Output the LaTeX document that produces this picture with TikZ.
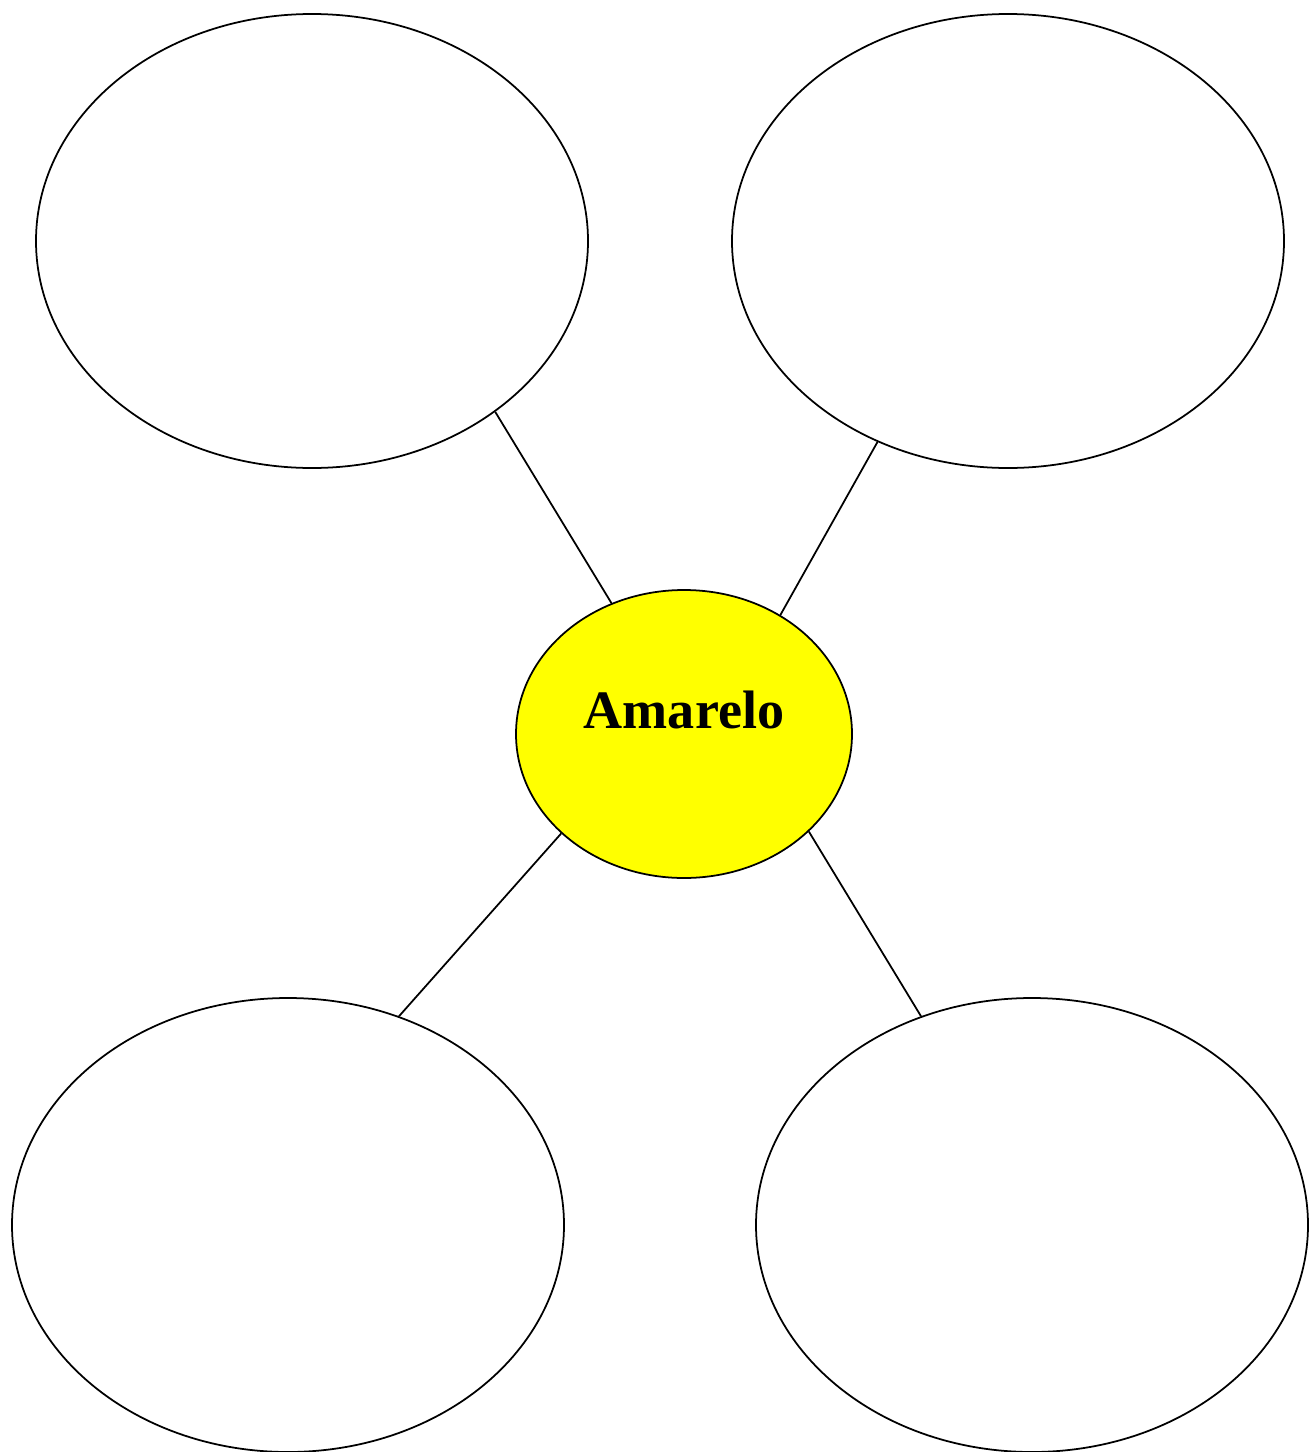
\documentclass[tikz,border=0pt]{standalone}
\usepackage{fontspec}
\setmainfont{Liberation Serif}
\usetikzlibrary{shapes.geometric}
\definecolor{amarelo}{RGB}{255,255,0}
\begin{document}
\begin{tikzpicture}[
  bolha/.style={draw, ellipse, line width=0.5pt, inner sep=0pt,
    minimum width=5.52cm, minimum height=4.54cm},
  ligacao/.style={draw, line width=0.5pt}]
  \useasboundingbox (0,0) rectangle (13.1,-14.52);

  % Bolha central
  \node[draw, ellipse, fill=amarelo, line width=0.5pt, inner sep=0pt,
    minimum width=3.36cm, minimum height=2.88cm] (centro) at (6.84,-7.34) {};
  \node[font=\fontsize{15.4}{18}\selectfont\bfseries] (titulo) at (6.84,-7.10) {Amarelo};

  % Bolhas vazias
  \node[bolha] (supesq) at (3.12,-2.41) {};
  \node[bolha] (supdir) at (10.08,-2.41) {};
  \node[bolha] (infesq) at (2.88,-12.25) {};
  \node[bolha] (infdir) at (10.32,-12.25) {};

  % Ligacoes
  \draw[ligacao] (supesq.-43) -- (centro.119);
  \draw[ligacao] (supdir.-123) -- (centro.51);
  \draw[ligacao] (centro.-141) -- (infesq.62);
  \draw[ligacao] (centro.-38) -- (infdir.118);
\end{tikzpicture}
\end{document}
